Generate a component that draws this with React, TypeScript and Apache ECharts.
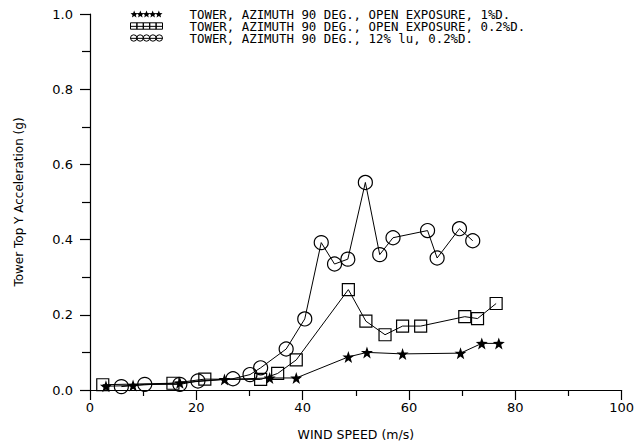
import React, { useEffect, useRef } from "react";
import * as echarts from "echarts";

const seriesNames = [
  "TOWER, AZIMUTH 90 DEG., OPEN EXPOSURE, 1%D.",
  "TOWER, AZIMUTH 90 DEG., OPEN EXPOSURE, 0.2%D.",
  "TOWER, AZIMUTH 90 DEG., 12% lu, 0.2%D.",
];

const starX = [3, 8.1, 16.9, 25.3, 33.8, 38.8, 48.6, 52.1, 58.8, 69.7, 73.7, 76.9];
const starY = [0.010, 0.012, 0.019, 0.028, 0.032, 0.032, 0.088, 0.100, 0.096, 0.098, 0.124, 0.124];

const squareX = [2.4, 15.6, 21.6, 32.1, 35.3, 38.8, 48.6, 51.9, 55.5, 58.8, 62.2, 70.5, 72.9, 76.4];
const squareY = [0.014, 0.018, 0.029, 0.028, 0.044, 0.080, 0.267, 0.183, 0.147, 0.170, 0.170, 0.195, 0.190, 0.230];

const circleX = [5.9, 10.3, 16.9, 20.3, 26.9, 30.1, 32.1, 36.9, 40.4, 43.5, 46.0, 48.5, 51.8, 54.5, 57.0, 63.5, 65.3, 69.5, 72.0];
const circleY = [0.009, 0.015, 0.015, 0.024, 0.030, 0.041, 0.059, 0.109, 0.189, 0.392, 0.335, 0.348, 0.552, 0.360, 0.405, 0.424, 0.351, 0.429, 0.397];

const xTicks = [0, 20, 40, 60, 80, 100];
const yTicks = [0, 0.2, 0.4, 0.6, 0.8, 1.0];

function starPath(cx: number, cy: number, R: number, r: number): string {
  let d = "";
  for (let i = 0; i < 10; i++) {
    const a = -Math.PI / 2 + (i * Math.PI) / 5;
    const rad = i % 2 === 0 ? R : r;
    const x = cx + rad * Math.cos(a);
    const y = cy + rad * Math.sin(a);
    d += (i === 0 ? "M" : "L") + x.toFixed(2) + " " + y.toFixed(2) + " ";
  }
  return d + "Z ";
}

const starSymbol = "path://" + starPath(10, 10, 10, 4);

function legendStars(): string {
  let d = "";
  for (let i = 0; i < 5; i++) d += starPath(5 + 8 * i, 5, 5, 2.2);
  return "path://" + d;
}
function legendSquares(): string {
  let d = "M0 5 L45 5 ";
  for (let i = 0; i < 5; i++) {
    const x = 9 * i;
    d += `M${x} 0 L${x + 9} 0 L${x + 9} 9 L${x} 9 Z `;
  }
  return "path://" + d;
}
function legendCircles(): string {
  let d = "M0 5 L45 5 ";
  for (let i = 0; i < 5; i++) {
    const cx = 4.5 + 9 * i;
    d += `M${cx - 4.5} 4.5 A4.5 4.5 0 1 0 ${cx + 4.5} 4.5 A4.5 4.5 0 1 0 ${cx - 4.5} 4.5 Z `;
  }
  return "path://" + d;
}

const toPairs = (xs: number[], ys: number[]) => xs.map((x, i) => [x, ys[i]]);

export default function App() {
  const ref = useRef<HTMLDivElement>(null);
  useEffect(() => {
    if (!ref.current) return;
    const chart = echarts.init(ref.current, null, { renderer: "svg" });
    const font = "DejaVu Sans";
    const mono = "DejaVu Sans Mono";
    chart.setOption({
      animation: false,
      backgroundColor: "#fff",
      grid: { left: 90, right: 14, top: 14, bottom: 54, containLabel: false },
      legend: {
        orient: "vertical",
        left: 130,
        top: 8,
        padding: 0,
        itemWidth: 32,
        itemHeight: 7,
        itemGap: 0,
        selectedMode: false,
        formatter: (n: string) => `{p|${n}}`,
        textStyle: {
          fontFamily: mono,
          fontSize: 12.4,
          lineHeight: 11,
          color: "#000",
          rich: {
            p: {
              fontFamily: mono,
              fontSize: 12.4,
              lineHeight: 11,
              height: 11,
              color: "#000",
              padding: [0, 0, 0, 22],
            },
          },
        },
        data: [
          {
            name: seriesNames[0],
            icon: legendStars(),
            itemStyle: { color: "#000", borderColor: "#000", borderWidth: 0 },
          },
          {
            name: seriesNames[1],
            icon: legendSquares(),
            itemStyle: { color: "transparent", borderColor: "#000", borderWidth: 1 },
          },
          {
            name: seriesNames[2],
            icon: legendCircles(),
            itemStyle: { color: "transparent", borderColor: "#000", borderWidth: 1 },
          },
        ],
      },
      xAxis: {
        type: "value",
        min: xTicks[0],
        max: xTicks[xTicks.length - 1],
        interval: 20,
        name: "WIND SPEED (m/s)",
        nameLocation: "middle",
        nameGap: 38,
        nameTextStyle: { fontFamily: font, fontSize: 12.5, color: "#000" },
        axisLine: { lineStyle: { color: "#000", width: 1.2 } },
        axisTick: { inside: false, length: 10, lineStyle: { color: "#000", width: 1.2 } },
        minorTick: { show: true, splitNumber: 2, length: 6, lineStyle: { color: "#000", width: 1.2 } },
        axisLabel: { fontFamily: font, fontSize: 13, color: "#000", margin: 11 },
        splitLine: { show: false },
      },
      yAxis: {
        type: "value",
        min: yTicks[0],
        max: yTicks[yTicks.length - 1],
        interval: 0.2,
        name: "Tower Top Y Acceleration (g)",
        nameLocation: "middle",
        nameGap: 65,
        nameRotate: 90,
        nameTextStyle: { fontFamily: font, fontSize: 12, color: "#000" },
        axisLine: { show: true, lineStyle: { color: "#000", width: 1.2 } },
        axisTick: { show: true, length: 10, lineStyle: { color: "#000", width: 1.2 } },
        minorTick: { show: true, splitNumber: 2, length: 8, lineStyle: { color: "#000", width: 1.2 } },
        axisLabel: {
          fontFamily: font,
          fontSize: 13,
          color: "#000",
          margin: 17,
          formatter: (v: number) => v.toFixed(1),
        },
        splitLine: { show: false },
      },
      series: [
        {
          name: seriesNames[0],
          type: "line",
          data: toPairs(starX, starY),
          symbol: starSymbol,
          symbolSize: 12,
          lineStyle: { color: "#000", width: 1 },
          itemStyle: { color: "#000" },
        },
        {
          name: seriesNames[1],
          type: "line",
          data: toPairs(squareX, squareY),
          symbol: "rect",
          symbolSize: 12,
          lineStyle: { color: "#000", width: 1 },
          itemStyle: { color: "transparent", borderColor: "#000", borderWidth: 1.2 },
        },
        {
          name: seriesNames[2],
          type: "line",
          data: toPairs(circleX, circleY),
          symbol: "circle",
          symbolSize: 14,
          lineStyle: { color: "#000", width: 1 },
          itemStyle: { color: "transparent", borderColor: "#000", borderWidth: 1.2 },
        },
      ],
    });
    return () => chart.dispose();
  }, []);
  return (
    <div
      ref={ref}
      style={{ position: "absolute", left: 0, top: 0, width: 637, height: 446 }}
    />
  );
}
